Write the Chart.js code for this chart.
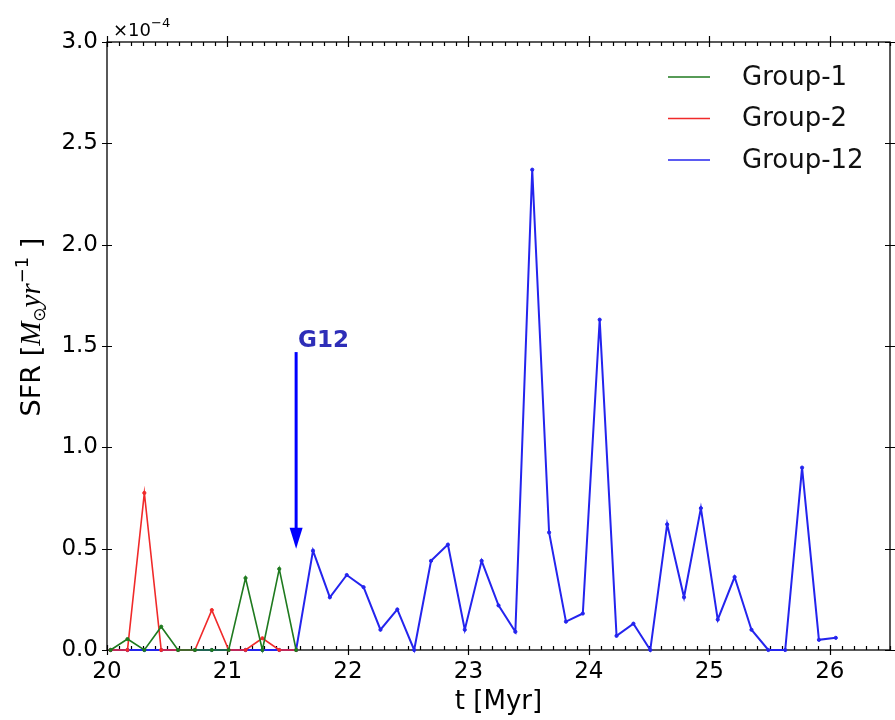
<!DOCTYPE html>
<html>
<head>
<meta charset="utf-8">
<script src="https://cdn.jsdelivr.net/npm/chart.js@4.4.0/dist/chart.umd.min.js"></script>
<style>
  html, body { margin: 0; padding: 0; background: #fff; }
  #wrap { width: 895px; height: 720px; }
</style>
</head>
<body>
<div id="wrap"><canvas id="sfr" width="895" height="720"></canvas></div>
<script>
// Time bins in Myr. Group-1 and Group-2 only cover the first 12 bins.
const timeMyr = [
  20.03, 20.17, 20.31, 20.45, 20.59, 20.73, 20.87, 21.01, 21.15, 21.29, 21.43, 21.57,
  21.71, 21.85, 21.99, 22.13, 22.27, 22.41, 22.55, 22.69, 22.83, 22.97, 23.11, 23.25,
  23.39, 23.53, 23.67, 23.81, 23.95, 24.09, 24.23, 24.37, 24.51, 24.65, 24.79, 24.93,
  25.07, 25.21, 25.35, 25.49, 25.63, 25.77, 25.91, 26.05
]

// SFR in units of 1e-4 Msun/yr
const sfrGroup1 = [0, 0.054, 0, 0.115, 0, 0, 0, 0, 0.355, 0, 0.40, 0]
const sfrGroup2 = [0, 0, 0.775, 0, 0, 0, 0.197, 0, 0, 0.058, 0, 0]
const sfrGroup12 = [
  0, 0, 0, 0, 0, 0, 0, 0, 0, 0, 0, 0,
  0.49, 0.26, 0.37, 0.31, 0.10, 0.20, 0.0, 0.44, 0.52, 0.10, 0.44, 0.22,
  0.09, 2.37, 0.58, 0.14, 0.18, 1.63, 0.07, 0.13, 0.0, 0.62, 0.26, 0.70,
  0.15, 0.36, 0.10, 0.0, 0.0, 0.90, 0.05, 0.06
]

const groupNames = ['Group-1', 'Group-2', 'Group-12']
const xTicks = [20, 21, 22, 23, 24, 25, 26]
const yTicks = [0, 0.5, 1.0, 1.5, 2.0, 2.5, 3.0]

// G12 onset marker (arrow + label)
const g12Arrow = { t: 21.57, from: 1.47, to: 0.5, text: 'G12' }

const COLORS = ['#1f7a1f', '#f02a2a', '#2424ee']
const SANS = '"DejaVu Sans", sans-serif'

const toPoints = (vals) => vals.map((v, i) => ({ x: timeMyr[i], y: v }))

function lineDataset(label, vals, color, width) {
  return {
    label: label,
    data: toPoints(vals),
    borderColor: color,
    backgroundColor: color,
    borderWidth: width,
    pointRadius: 1.6,
    pointBorderWidth: 1,
    pointBorderColor: color,
    pointBackgroundColor: color,
    tension: 0,
    fill: false,
    clip: 6
  }
}

// Box frame with matplotlib-style ticks on all four sides (drawn under the lines)
const frameTicks = {
  id: 'frameTicks',
  beforeDatasetsDraw(chart) {
    const { ctx, chartArea: a, scales } = chart
    const sx = scales.x, sy = scales.y
    ctx.save()
    ctx.strokeStyle = '#000'
    ctx.lineWidth = 1.3
    ctx.strokeRect(a.left, a.top, a.right - a.left, a.bottom - a.top)

    ctx.lineWidth = 1.2
    ctx.beginPath()
    // x minor ticks every 0.1
    for (let k = 0; k <= 65; k++) {
      if (k % 10 === 0) continue
      const px = Math.round(sx.getPixelForValue(20 + k / 10)) + 0.5
      ctx.moveTo(px, a.bottom); ctx.lineTo(px, a.bottom - 4)
      ctx.moveTo(px, a.top); ctx.lineTo(px, a.top + 4)
    }
    // x major ticks
    xTicks.forEach(v => {
      const px = Math.round(sx.getPixelForValue(v)) + 0.5
      ctx.moveTo(px, a.bottom + 5); ctx.lineTo(px, a.bottom - 5)
      ctx.moveTo(px, a.top - 6); ctx.lineTo(px, a.top + 5)
    })
    // y major ticks
    yTicks.forEach(v => {
      const py = Math.round(sy.getPixelForValue(v)) + 0.5
      ctx.moveTo(a.left - 5, py); ctx.lineTo(a.left + 5, py)
      ctx.moveTo(a.right + 5, py); ctx.lineTo(a.right - 5, py)
    })
    ctx.stroke()

    // offset text above the y axis
    ctx.fillStyle = '#000'
    ctx.textBaseline = 'alphabetic'
    ctx.textAlign = 'left'
    ctx.font = '18px ' + SANS
    ctx.fillText('\u00d710', a.left + 6, 36)
    const w = ctx.measureText('\u00d710').width
    ctx.font = '13px ' + SANS
    ctx.fillText('\u22124', a.left + 6 + w, 27)

    // y axis title: SFR [M_sun yr^-1]
    const parts = [
      { t: 'SFR [', f: '27px ' + SANS, dy: 0 },
      { t: 'M', f: 'italic 29px "Liberation Serif", serif', dy: 0 },
      { t: '\u2299', f: '17px ' + SANS, dy: 5 },
      { t: 'yr', f: 'italic 29px "Liberation Serif", serif', dy: 0 },
      { t: '\u22121', f: '18px ' + SANS, dy: -12 },
      { t: ' ]', f: '27px ' + SANS, dy: 0 }
    ]
    let total = 0
    parts.forEach(p => { ctx.font = p.f; p.w = ctx.measureText(p.t).width; total += p.w })
    ctx.translate(30, 327)
    ctx.rotate(-Math.PI / 2)
    let x = -total / 2
    parts.forEach(p => {
      ctx.font = p.f
      ctx.fillText(p.t, x, 10 + p.dy)
      x += p.w
    })
    ctx.restore()
  }
}

// Legend (no frame) and the G12 arrow annotation
const overlay = {
  id: 'overlay',
  afterDatasetsDraw(chart) {
    const { ctx, scales } = chart
    ctx.save()
    chart.data.datasets.forEach((ds, i) => {
      const y = 77 + i * 41.5
      ctx.strokeStyle = ds.borderColor
      ctx.lineWidth = 1.5
      ctx.beginPath()
      ctx.moveTo(668, y); ctx.lineTo(710, y)
      ctx.stroke()
      ctx.fillStyle = '#111'
      ctx.font = '26px ' + SANS
      ctx.textBaseline = 'middle'
      ctx.fillText(ds.label, 742, y + 1)
    })

    const ax = scales.x.getPixelForValue(g12Arrow.t)
    const yTop = scales.y.getPixelForValue(g12Arrow.from)
    const yTip = scales.y.getPixelForValue(g12Arrow.to)
    ctx.strokeStyle = '#0000ff'
    ctx.fillStyle = '#0000ff'
    ctx.lineWidth = 3
    ctx.beginPath()
    ctx.moveTo(ax, yTop); ctx.lineTo(ax, yTip - 18)
    ctx.stroke()
    ctx.beginPath()
    ctx.moveTo(ax - 6.5, yTip - 21)
    ctx.lineTo(ax + 6.5, yTip - 21)
    ctx.lineTo(ax, yTip)
    ctx.closePath()
    ctx.fill()

    ctx.fillStyle = '#2e2eb8'
    ctx.font = 'bold 23px ' + SANS
    ctx.textBaseline = 'alphabetic'
    ctx.fillText(g12Arrow.text, ax + 2, scales.y.getPixelForValue(1.5) + 1)
    ctx.restore()
  }
}

new Chart(document.getElementById('sfr'), {
  type: 'line',
  data: {
    datasets: [
      lineDataset(groupNames[0], sfrGroup1, COLORS[0], 1.6),
      lineDataset(groupNames[1], sfrGroup2, COLORS[1], 1.6),
      lineDataset(groupNames[2], sfrGroup12, COLORS[2], 2)
    ]
  },
  options: {
    responsive: false,
    animation: false,
    devicePixelRatio: 1,
    layout: { padding: { top: 42, right: 2, left: 0, bottom: 0 } },
    plugins: {
      legend: { display: false },
      tooltip: { enabled: false }
    },
    scales: {
      x: {
        type: 'linear',
        min: 20,
        max: 26.5,
        afterBuildTicks: s => { s.ticks = xTicks.map(v => ({ value: v })) },
        afterFit: s => { s.height = 70 },
        grid: { display: false, drawTicks: false },
        border: { display: false },
        ticks: {
          color: '#000',
          font: { family: SANS, size: 23 },
          padding: 8,
          maxRotation: 0,
          callback: v => String(v)
        },
        title: {
          display: true,
          text: 't [Myr]',
          color: '#000',
          font: { family: SANS, size: 26 },
          padding: { top: 0, bottom: 2 }
        }
      },
      y: {
        type: 'linear',
        min: 0,
        max: 3,
        afterBuildTicks: s => { s.ticks = yTicks.map(v => ({ value: v })) },
        afterFit: s => { s.width = 107 },
        grid: { display: false, drawTicks: false },
        border: { display: false },
        ticks: {
          color: '#000',
          font: { family: SANS, size: 23 },
          padding: 9,
          callback: v => v.toFixed(1)
        }
      }
    }
  },
  plugins: [frameTicks, overlay]
})
</script>
</body>
</html>
